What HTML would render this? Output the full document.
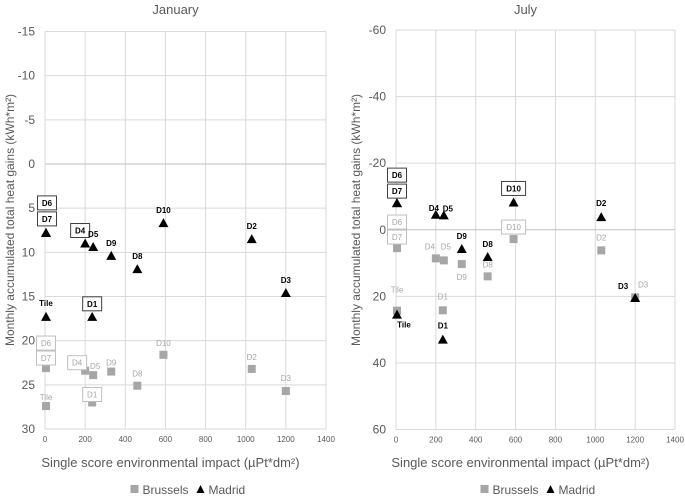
<!DOCTYPE html>
<html><head><meta charset="utf-8"><style>
body{margin:0;background:#fff;width:685px;height:497px;overflow:hidden;font-family:"Liberation Sans",sans-serif}
</style></head><body>
<svg id="svg" width="685" height="497" xmlns="http://www.w3.org/2000/svg"></svg>
<script>
// ---- data ----
const names = ["Tile","D1","D4","D5","D6","D7","D9","D8","D10","D2","D3"];
const impactX = [5,235,200,240,5,5,330,460,590,1030,1200];
const janMadrid = [17.3,17.3,9.0,9.4,7.8,7.8,10.4,11.9,6.7,8.5,14.6];
const janBrussels = [27.4,27.0,23.4,23.9,23.1,23.1,23.5,25.1,21.6,23.2,25.7];
const julMadrid = [25.5,33,-4.5,-4.3,-8,-8,5.8,8.2,-8.2,-3.8,20.5];
const julBrussels = [24.3,24.2,8.6,9.2,5.5,5.5,10.3,14,2.8,6.2,20.3];
const xTicks = [0,200,400,600,800,1000,1200,1400];
const janTicks = [-15,-10,-5,0,5,10,15,20,25,30];
const julTicks = [-60,-40,-20,0,20,40,60];
// label placement (style): [dx,dy,boxed]
const janMadLbl = [[0,-14,0],[0,-13,1],[-5,-13,1],[0,-13,0],[1,-30,1],[1,-14,1],[0,-13,0],[0,-13,0],[0,-13,0],[0,-13,0],[0,-13,0]];
const janBruLbl = [[0,-9,0],[0,-8,1],[-8,-8,1],[2,-9,0],[0,-25,1],[0,-10,1],[0,-9,0],[0,-12,0],[0,-12,0],[0,-12,0],[0,-13,0]];
const julMadLbl = [[7,10,0],[0,-14,0],[-2,-7,0],[4,-7,0],[0,-28,1],[0,-12,1],[0,-13,0],[0,-13,0],[0,-14,1],[0,-14,0],[-12,-12,0]];
const julBruLbl = [[0,-21,0],[0,-14,0],[-6,-12,0],[2,-14,0],[0,-26,1],[0,-11,1],[0,13,0],[0,-12,0],[0,-12,1],[0,-13,0],[8,-13,0]];

const NS="http://www.w3.org/2000/svg";
const svg=document.getElementById('svg');
function mk(tag,attrs,parent){const e=document.createElementNS(NS,tag);for(const k in attrs)e.setAttribute(k,attrs[k]);(parent||svg).appendChild(e);return e;}
function txt(s,attrs,parent){const e=mk('text',attrs,parent);e.textContent=s;return e;}

function panel(cfg){
  const g=mk('g',{});
  
  
  const xs=v=>cfg.x0+(v-0)/(1400)*(cfg.x1-cfg.x0);
  const ys=v=>cfg.y0+(v-cfg.ymin)/(cfg.ymax-cfg.ymin)*(cfg.y1-cfg.y0);
  xTicks.forEach(t=>{
    const l=mk('line',{x1:xs(t),x2:xs(t),y1:cfg.y0,y2:cfg.y1,stroke:'#d9d9d9','stroke-width':1},g);
    
    
    const tl=txt(String(t),{x:xs(t),y:cfg.y1+13,'font-size':8,fill:'#595959','text-anchor':'middle'},g);
    
    
  });
  cfg.ticks.forEach(t=>{
    const l=mk('line',{x1:cfg.x0,x2:cfg.x1,y1:ys(t),y2:ys(t),stroke:t===0?'#bfbfbf':'#d9d9d9','stroke-width':1},g);
    
    
    const tl=txt(String(t),{x:cfg.x0-10,y:ys(t)+4,'font-size':12,fill:'#595959','text-anchor':'end'},g);
    
    
  });
  const ti=txt(cfg.title,{x:(cfg.x0+cfg.x1)/2-10,y:14,'font-size':13,fill:'#595959','text-anchor':'middle'},g);
  
  
  const yt=txt('Monthly accumulated total heat gains (kWh*m²)',{x:0,y:0,'font-size':12,fill:'#595959','text-anchor':'middle',transform:`translate(${cfg.ytx},220) rotate(-90)`},g);
  
  
  const xt=txt('Single score environmental impact (µPt*dm²)',{x:(cfg.x0+cfg.x1)/2-15,y:467,'font-size':13,fill:'#595959','text-anchor':'middle'},g);
  
  
  cfg.bru.forEach((v,i)=>{
    const px=xs(impactX[i]),py=ys(v);
    const s=mk('rect',{x:px-4,y:py-4,width:8,height:8,fill:'#a6a6a6'},g);
    
    
  });
  cfg.mad.forEach((v,i)=>{
    const px=xs(impactX[i]),py=ys(v);
    const p=mk('polygon',{points:`${px},${py-5} ${px-5},${py+4} ${px+5},${py+4}`,fill:'#000'},g);
    
    
  });
  function labels(vals,lbl,color,bold,pref){
    vals.forEach((v,i)=>{
      const [dx,dy,boxed]=lbl[i];
      const cx=xs(impactX[i])+dx, cy=ys(v)+dy;
      const w=names[i].length>2?24:19;
      if(boxed){
        const b=mk('rect',{x:cx-w/2,y:cy-7,width:w,height:14,fill:'#fff',stroke:bold?'#404040':'#bfbfbf','stroke-width':1},g);
        
        
      }
      const t=txt(names[i],{x:cx,y:cy+3,'font-size':8,'font-weight':bold?'bold':'normal',fill:color,'text-anchor':'middle'},g);
      
      
    });
  }
  labels(cfg.bru,cfg.bruLbl,'#a6a6a6',false,'brussels');
  labels(cfg.mad,cfg.madLbl,'#000',true,'madrid');
  const lx=(cfg.x0+cfg.x1)/2-55;
  const ls=mk('rect',{x:lx,y:485,width:8,height:8,fill:'#a6a6a6'},g);
  
  
  const lt=txt('Brussels',{x:lx+12,y:494,'font-size':12,fill:'#595959'},g);
  
  
  const mx=lx+70;
  const lm=mk('polygon',{points:`${mx},${485} ${mx-4},${493} ${mx+4},${493}`,fill:'#000'},g);
  
  
  const lt2=txt('Madrid',{x:mx+8,y:494,'font-size':12,fill:'#595959'},g);
  
  
}
panel({key:'january',title:'January',x0:45,x1:326,y0:31.5,y1:429,ymin:-15,ymax:30,ticks:janTicks,ytx:14,
  mad:janMadrid,bru:janBrussels,madLbl:janMadLbl,bruLbl:janBruLbl});
panel({key:'july',title:'July',x0:396,x1:675,y0:30,y1:429.5,ymin:-60,ymax:60,ticks:julTicks,ytx:360,
  mad:julMadrid,bru:julBrussels,madLbl:julMadLbl,bruLbl:julBruLbl});
</script>
</body></html>
